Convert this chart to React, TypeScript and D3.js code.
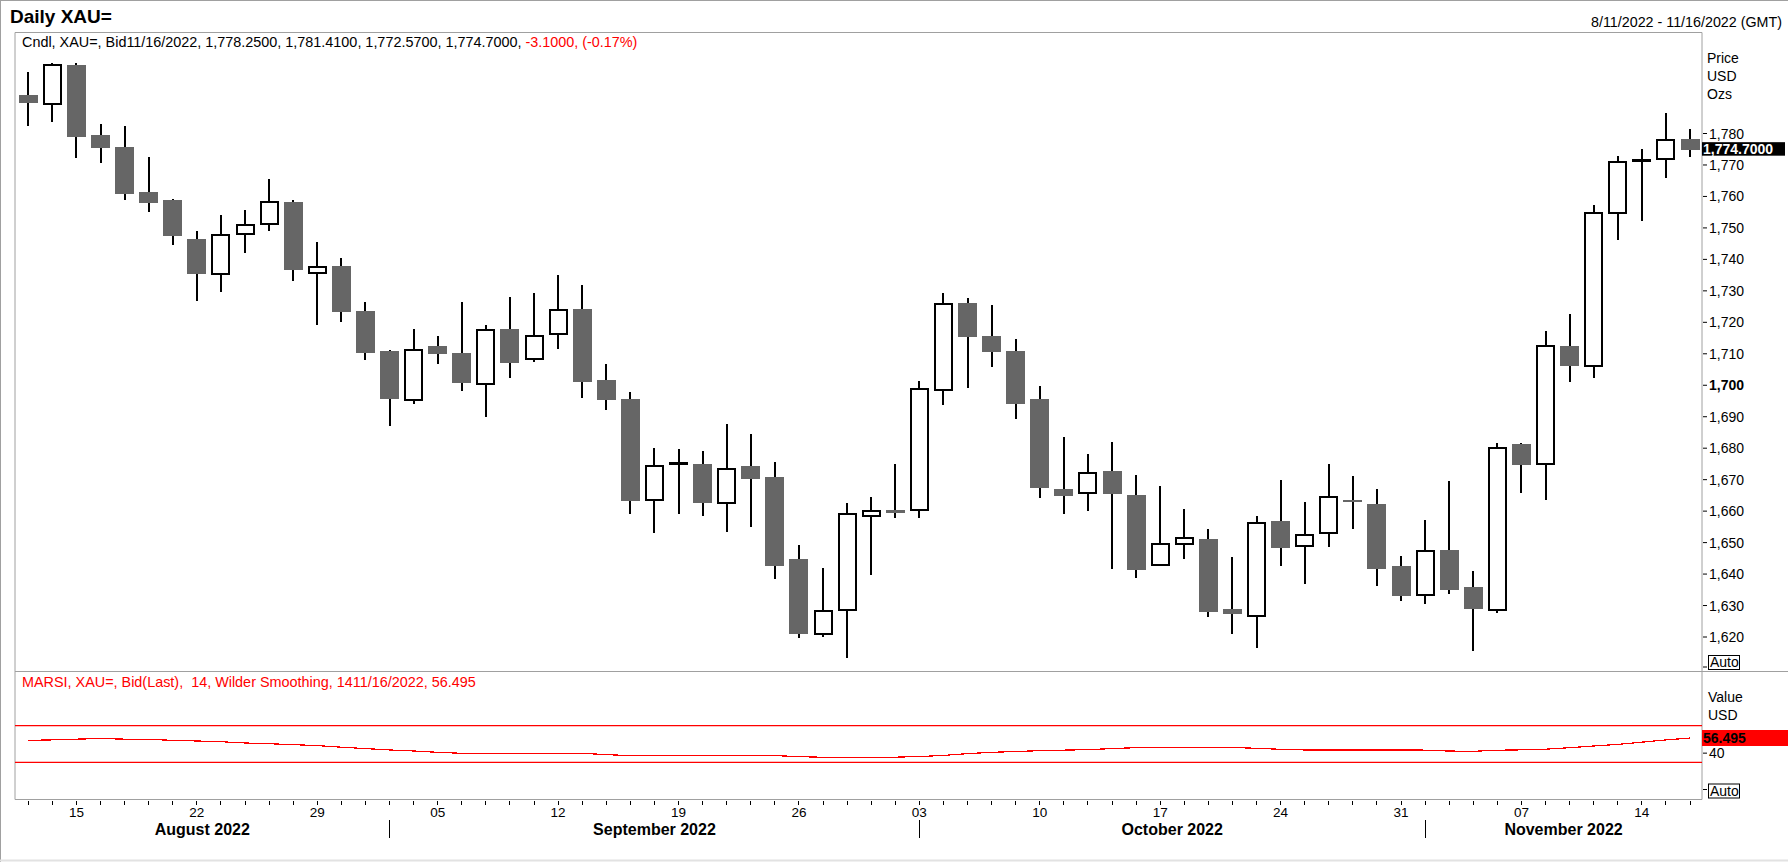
import * as d3 from 'd3'

// trading days 8/11/2022 - 11/16/2022
const dates = [
  '08/11', '08/12', '08/15', '08/16', '08/17', '08/18', '08/19', '08/22', '08/23', '08/24', '08/25', '08/26', '08/29', '08/30', '08/31',
  '09/01', '09/02', '09/05', '09/06', '09/07', '09/08', '09/09', '09/12', '09/13', '09/14', '09/15', '09/16', '09/19', '09/20', '09/21',
  '09/22', '09/23', '09/26', '09/27', '09/28', '09/29', '09/30',
  '10/03', '10/04', '10/05', '10/06', '10/07', '10/10', '10/11', '10/12', '10/13', '10/14', '10/17', '10/18', '10/19', '10/20', '10/21',
  '10/24', '10/25', '10/26', '10/27', '10/28', '10/31',
  '11/01', '11/02', '11/03', '11/04', '11/07', '11/08', '11/09', '11/10', '11/11', '11/14', '11/15', '11/16'
]

const opens = [
  1792.2, 1789.5, 1801.8, 1779.5, 1775.7, 1761.4, 1758.9, 1746.5, 1735.4, 1748.1, 1751.2, 1758.2, 1735.7, 1737.9, 1723.6,
  1710.9, 1695.3, 1712.5, 1710.3, 1700.4, 1717.9, 1708.3, 1716.4, 1724.2, 1701.7, 1695.6, 1663.5, 1675.0, 1675.0, 1662.6,
  1674.3, 1670.9, 1644.8, 1621.0, 1628.6, 1658.5, 1660.4,
  1660.4, 1698.5, 1726.1, 1715.6, 1710.9, 1695.6, 1666.9, 1665.9, 1672.8, 1665.1, 1642.9, 1649.6, 1651.2, 1628.8, 1626.7,
  1656.9, 1649.0, 1653.0, 1663.6, 1662.2, 1642.5,
  1633.4, 1647.5, 1636.0, 1628.7, 1681.3, 1674.9, 1712.6, 1706.2, 1754.6, 1771.4, 1771.9, 1778.25
]
const highs = [
  1799.4, 1802.3, 1802.3, 1783.0, 1782.4, 1772.5, 1759.2, 1749.0, 1754.1, 1755.7, 1765.5, 1758.9, 1745.5, 1740.4, 1726.5,
  1711.2, 1717.9, 1715.6, 1726.5, 1719.2, 1728.0, 1729.3, 1735.0, 1731.9, 1706.7, 1697.8, 1680.0, 1679.6, 1679.1, 1687.7,
  1684.5, 1675.6, 1649.2, 1641.9, 1662.5, 1664.6, 1675.1,
  1701.3, 1729.2, 1727.6, 1725.5, 1714.7, 1699.8, 1683.6, 1678.2, 1681.9, 1671.5, 1668.0, 1660.7, 1654.3, 1645.4, 1658.4,
  1669.9, 1662.9, 1675.0, 1671.1, 1666.9, 1645.7,
  1657.1, 1669.5, 1641.0, 1681.8, 1681.8, 1717.1, 1722.5, 1757.3, 1772.9, 1775.0, 1786.5, 1781.41
]
const lows = [
  1782.5, 1783.8, 1772.3, 1770.7, 1759.0, 1755.1, 1744.7, 1726.9, 1729.7, 1741.9, 1749.1, 1733.2, 1719.1, 1720.2, 1708.0,
  1687.2, 1693.9, 1706.6, 1698.3, 1689.8, 1702.4, 1707.3, 1711.6, 1695.9, 1692.2, 1659.2, 1653.0, 1659.2, 1658.6, 1653.5,
  1654.8, 1638.5, 1619.8, 1620.0, 1613.2, 1639.7, 1657.9,
  1657.9, 1693.8, 1699.2, 1705.9, 1689.4, 1664.3, 1659.2, 1659.9, 1641.5, 1638.9, 1642.9, 1644.7, 1626.2, 1620.9, 1616.6,
  1642.7, 1637.0, 1648.5, 1654.4, 1636.1, 1631.5,
  1630.6, 1633.8, 1615.4, 1627.5, 1665.8, 1663.6, 1701.0, 1702.4, 1746.3, 1752.3, 1765.9, 1772.57
]
const closes = [
  1789.6, 1801.9, 1779.0, 1775.5, 1760.9, 1758.0, 1747.5, 1735.5, 1747.6, 1750.8, 1758.3, 1736.7, 1737.7, 1723.3, 1710.4,
  1695.7, 1711.3, 1710.0, 1700.8, 1717.4, 1707.2, 1715.8, 1724.0, 1701.1, 1695.4, 1663.3, 1674.4, 1675.2, 1662.7, 1673.5,
  1670.3, 1642.7, 1621.1, 1628.4, 1659.2, 1660.0, 1659.3,
  1698.9, 1725.9, 1715.4, 1710.7, 1694.2, 1667.4, 1664.9, 1672.2, 1665.6, 1641.4, 1649.7, 1651.6, 1628.1, 1627.2, 1656.3,
  1648.2, 1652.5, 1664.5, 1663.0, 1641.7, 1633.1,
  1647.3, 1634.8, 1629.0, 1680.1, 1674.6, 1712.4, 1706.1, 1754.6, 1770.8, 1771.6, 1778.0, 1774.70
]

// MARSI 14, Wilder smoothing
const rsi = [
  54.0, 54.5, 55.3, 56.0, 55.3, 55.1, 54.0, 53.3, 52.5, 51.1, 50.3, 49.3, 48.3, 46.5, 45.0,
  43.5, 42.4, 40.9, 39.8, 39.8, 39.8, 39.8, 39.8, 39.8, 38.4, 37.3, 37.3, 37.3, 37.3, 37.3,
  37.3, 37.3, 36.2, 35.5, 35.5, 35.5, 35.6,
  36.3, 37.5, 39.5, 40.9, 41.8, 42.7, 43.3, 43.8, 45.0, 46.0, 46.4, 46.4, 46.4, 46.2, 45.3,
  44.2, 43.5, 43.5, 43.5, 43.5, 43.5,
  43.3, 42.3, 42.0, 43.2, 43.6, 44.3, 46.0, 47.8, 49.6, 52.0, 54.5, 56.495
]

const weekLabels = ['08/15', '08/22', '08/29', '09/05', '09/12', '09/19', '09/26', '10/03', '10/10', '10/17', '10/24', '10/31', '11/07', '11/14']
const monthNames = ['August 2022', 'September 2022', 'October 2022', 'November 2022']
const monthStarts = ['09/01', '10/03', '11/01']
const priceTicks = [1620, 1630, 1640, 1650, 1660, 1670, 1680, 1690, 1700, 1710, 1720, 1730, 1740, 1750, 1760, 1770, 1780]
const rsiTicks = [40, 60]
const rsiBands = [70, 30]

const W = 1788
const H = 862
const FONT = '"Liberation Sans", Arial, sans-serif'
const FRAME = '#a0a0a0'

export default function App() {
  const left = 15
  const right = 1702
  const top = 32.5
  const sep = 671.5
  const bottom = 799.5

  const x = d3.scalePoint<string>().domain(dates).range([28.3, 1690])
  const y = d3.scaleLinear().domain([1620, 1780]).range([637, 133.5])
  const ry = d3.scaleLinear().domain([30, 70]).range([762.3, 725.7])

  const rsiLine = d3.line<number>()
    .x((_, i) => x(dates[i]) as number)
    .y(d => ry(d))

  const last = closes[closes.length - 1]
  const lastRsi = rsi[rsi.length - 1]

  const bounds = [left, ...monthStarts.map(d => x(d) as number), right]

  return (
    <>
      <style>{'body{margin:0}'}</style>
      <svg width={W} height={H} style={{ display: 'block', fontFamily: FONT }}>
        <rect x={0} y={0} width={W} height={H} fill="#fff" />
        <defs>
          <clipPath id="mainClip"><rect x={left} y={top} width={right - left} height={sep - top} /></clipPath>
          <clipPath id="rsiClip"><rect x={left} y={sep} width={right - left} height={bottom - sep} /></clipPath>
          <clipPath id="rsiLabelClip"><rect x={right} y={sep} width={W - right} height={730 - sep} /></clipPath>
        </defs>

        {/* outer frame */}
        <line x1={0} x2={W} y1={0.5} y2={0.5} stroke={FRAME} />
        <line x1={0.5} x2={0.5} y1={0} y2={H} stroke={FRAME} />
        <line x1={0} x2={W} y1={860.5} y2={860.5} stroke="#e2e2e2" strokeWidth={2} />

        <text x={10} y={23} fontSize={19} fontWeight="bold">Daily XAU=</text>
        <text x={1782} y={27} fontSize={14.3} textAnchor="end">8/11/2022 - 11/16/2022 (GMT)</text>

        {/* panel frames */}
        <line x1={left} x2={right} y1={top} y2={top} stroke={FRAME} />
        <line x1={left} x2={left} y1={top} y2={bottom} stroke={FRAME} />
        <line x1={right} x2={right} y1={top} y2={bottom} stroke={FRAME} />
        <line x1={left} x2={W} y1={sep} y2={sep} stroke={FRAME} />
        <line x1={left} x2={right} y1={bottom} y2={bottom} stroke={FRAME} />

        <text x={22} y={47} fontSize={14.4}>
          Cndl, XAU=, Bid11/16/2022, 1,778.2500, 1,781.4100, 1,772.5700, 1,774.7000, <tspan fill="#ff0000">-3.1000, (-0.17%)</tspan>
        </text>

        {/* candles */}
        <g clipPath="url(#mainClip)" shapeRendering="crispEdges">
          {dates.map((d, i) => {
            const cx = x(d) as number
            const o = opens[i]
            const c = closes[i]
            const up = c >= o
            const yTop = y(Math.max(o, c))
            const h = Math.abs(y(o) - y(c))
            return (
              <g key={d}>
                <line x1={cx} x2={cx} y1={y(highs[i])} y2={y(lows[i])} stroke="#000" strokeWidth={2} />
                {up
                  ? <rect x={cx - 8.5} y={yTop} width={17} height={Math.max(h, 0.5)} fill="#fff" stroke="#000" strokeWidth={2} />
                  : <rect x={cx - 9.5} y={yTop} width={19} height={Math.max(h, 2.5)} fill="#666666" />}
              </g>
            )
          })}
        </g>

        {/* price axis */}
        <text x={1707} y={63} fontSize={14}>Price</text>
        <text x={1707} y={81} fontSize={14}>USD</text>
        <text x={1707} y={99} fontSize={14}>Ozs</text>
        {priceTicks.map(t => (
          <g key={t}>
            <line x1={right + 1} x2={right + 5} y1={y(t)} y2={y(t)} stroke="#000" />
            <text x={1709} y={y(t)} dy="0.36em" fontSize={14} fontWeight={t === 1700 ? 'bold' : 'normal'}>
              {d3.format(',')(t)}
            </text>
          </g>
        ))}
        <rect x={right} y={y(last) - 8} width={83} height={13.5} fill="#000" />
        <text x={right + 1} y={y(last) + 4.3} fontSize={14} fontWeight="bold" fill="#fff">
          {d3.format(',.4f')(last)}
        </text>
        <line x1={right + 1} x2={right + 5} y1={667} y2={667} stroke="#000" />
        <rect x={1708.5} y={655.5} width={31} height={14} fill="#fff" stroke="#000" />
        <text x={1710} y={667} fontSize={14}>Auto</text>

        {/* RSI panel */}
        <text x={22} y={687} fontSize={14.4} fill="#ff0000" style={{ whiteSpace: 'pre' }}>
          {'MARSI, XAU=, Bid(Last),  14, Wilder Smoothing, 1411/16/2022, 56.495'}
        </text>
        {rsiBands.map(b => (
          <line key={b} x1={left} x2={right} y1={ry(b)} y2={ry(b)} stroke="#ff0000" strokeWidth={1.3} />
        ))}
        <path d={rsiLine(rsi) || ''} fill="none" stroke="#ff0000" strokeWidth={1.2}
          clipPath="url(#rsiClip)" shapeRendering="crispEdges" />

        <text x={1708} y={702} fontSize={14}>Value</text>
        <text x={1708} y={719.5} fontSize={14}>USD</text>
        {rsiTicks.map(t => (
          <g key={t}>
            <line x1={right + 1} x2={right + 5} y1={ry(t)} y2={ry(t)} stroke="#000" />
            {/* the 60 label sits under the value box; only its top edge peeks out */}
            <text x={1709} y={ry(t)} dy="0.36em" fontSize={14}
              clipPath={t > lastRsi ? 'url(#rsiLabelClip)' : undefined}>{t}</text>
          </g>
        ))}
        <rect x={right} y={730} width={W - right} height={16} fill="#ff0000" />
        <text x={right + 1} y={743} fontSize={14} fontWeight="bold" fill="#000">{d3.format('.3f')(lastRsi)}</text>
        <line x1={right + 1} x2={right + 5} y1={789.5} y2={789.5} stroke="#000" />
        <rect x={1708.5} y={784} width={31} height={14} fill="#fff" stroke="#000" />
        <text x={1710} y={796} fontSize={14}>Auto</text>

        {/* time axis */}
        <g shapeRendering="crispEdges">
          {dates.map(d => (
            <line key={d} x1={x(d)} x2={x(d)} y1={bottom + 1} y2={bottom + 5} stroke="#000" />
          ))}
          {monthStarts.map(d => (
            <line key={d} x1={x(d)} x2={x(d)} y1={820} y2={838} stroke="#000" />
          ))}
        </g>
        {weekLabels.map(d => (
          <text key={d} x={x(d)} y={817} fontSize={13.5} textAnchor="middle">{d.slice(3)}</text>
        ))}
        {monthNames.map((m, i) => (
          <text key={m} x={(bounds[i] + bounds[i + 1]) / 2} y={835} fontSize={16} fontWeight="bold" textAnchor="middle">{m}</text>
        ))}
      </svg>
    </>
  )
}
